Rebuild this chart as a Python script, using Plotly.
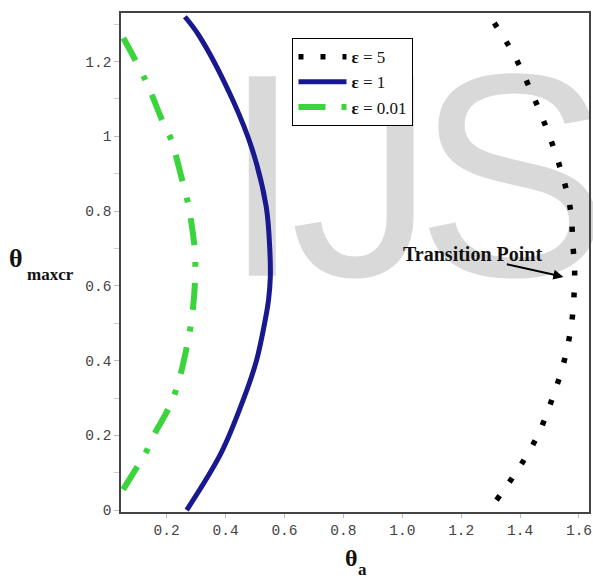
import plotly.graph_objects as go

# theta_maxcr (y) vs theta_a (x) for three values of epsilon
eps5_y = [0.027, 0.072, 0.12, 0.2, 0.3, 0.4, 0.5, 0.589, 0.65, 0.702, 0.809, 0.916, 1.023, 1.125, 1.224, 1.318]
eps5_x = [1.32, 1.361, 1.402, 1.46, 1.51, 1.55, 1.575, 1.584, 1.585, 1.58, 1.57, 1.536, 1.489, 1.435, 1.375, 1.30]

eps1_y = [0.0, 0.153, 0.295, 0.4, 0.51, 0.563, 0.624, 0.7, 0.812, 0.964, 1.098, 1.267, 1.32]
eps1_x = [0.268, 0.385, 0.46, 0.505, 0.535, 0.546, 0.552, 0.550, 0.538, 0.491, 0.424, 0.312, 0.262]

eps001_y = [0.055, 0.107, 0.155, 0.206, 0.262, 0.313, 0.356, 0.48, 0.536, 0.63, 0.70, 0.822, 0.876, 0.994, 1.037, 1.152, 1.263]
eps001_x = [0.052, 0.093, 0.13, 0.16, 0.2, 0.228, 0.245, 0.279, 0.289, 0.297, 0.295, 0.272, 0.255, 0.214, 0.188, 0.127, 0.053]

x_ticks = [0.2, 0.4, 0.6, 0.8, 1.0, 1.2, 1.4, 1.6]
y_ticks = [0, 0.2, 0.4, 0.6, 0.8, 1, 1.2]

transition_x = 1.547
transition_y = 0.624

fig = go.Figure()

fig.add_trace(go.Scatter(
    x=eps5_x, y=eps5_y, mode="lines", line_shape="spline",
    name="<b>ε</b> = 5",
    line=dict(color="black", width=5.5, dash="5px,17px"),
))
fig.add_trace(go.Scatter(
    x=eps1_x, y=eps1_y, mode="lines", line_shape="spline",
    name="<b>ε</b> = 1",
    line=dict(color="#18188f", width=5),
))
fig.add_trace(go.Scatter(
    x=eps001_x, y=eps001_y, mode="lines", line_shape="spline",
    name="<b>ε</b> = 0.01",
    line=dict(color="#3cd43c", width=6, dash="27px,16px,5px,17px"),
))

# "IJS" watermark, drawn below the curves
wm_font = dict(family="Liberation Sans", size=290, color="#d9d9d9")
for letter, cx in [("I", 263), ("J", 364), ("S", 515)]:
    px = (cx - 120.7) / 471.3
    fig.add_shape(
        type="rect", xref="paper", yref="paper",
        x0=px - 0.2, x1=px + 0.2, y0=0.53, y1=0.93,
        line=dict(width=0), fillcolor="rgba(0,0,0,0)", layer="below",
        label=dict(text=letter, font=wm_font, textposition="middle center"),
    )

serif = "Liberation Serif"


def note(x, y, text, size):
    fig.add_annotation(x=x, y=y, xref="paper", yref="paper", text=text,
                       showarrow=False, xanchor="center", yanchor="middle",
                       font=dict(family=serif, size=size, color="#111"))


fig.add_annotation(
    x=transition_x, y=transition_y, xref="x", yref="y",
    ax=-58, ay=-13, axref="pixel", ayref="pixel",
    text="", showarrow=True, arrowhead=2, arrowsize=1, arrowwidth=2, arrowcolor="black",
)
note(0.751, 0.517, "<b>Transition Point</b>", 20)

# axis titles
note(0.493, -0.093, "<b>θ</b>", 24)
note(0.516, -0.116, "<b>a</b>", 17)
note(-0.224, 0.509, "<b>θ</b>", 26)
note(-0.150, 0.475, "<b>maxcr</b>", 17)

tick_font = dict(family="Liberation Mono", size=14.5, color="#444")

fig.update_layout(
    width=593, height=578,
    margin=dict(l=121, r=1, t=13, b=66),
    paper_bgcolor="white", plot_bgcolor="rgba(0,0,0,0)",
    showlegend=True,
    legend=dict(
        x=0.366, y=0.95, xanchor="left", yanchor="top",
        bgcolor="white", bordercolor="black", borderwidth=1.2,
        font=dict(family=serif, size=17, color="#111"),
        tracegroupgap=0, itemwidth=48,
    ),
    xaxis=dict(
        range=[0.045, 1.634], tickvals=x_ticks, tickformat=".1f",
        showgrid=False, zeroline=False,
        showline=True, linecolor="#444", linewidth=1.5, mirror=True,
        ticks="outside", ticklen=4, tickcolor="#bbb",
        tickfont=tick_font, ticklabeloverflow="allow",
    ),
    yaxis=dict(
        range=[-0.005, 1.33], tickvals=y_ticks,
        showgrid=False, zeroline=False,
        showline=True, linecolor="#444", linewidth=1.5, mirror=True,
        ticks="outside", ticklen=5, tickcolor="#bbb",
        minor=dict(dtick=0.1, ticks="outside", ticklen=5, tickcolor="#ccc"),
        tickfont=tick_font,
    ),
)

fig.write_html("out.html")
